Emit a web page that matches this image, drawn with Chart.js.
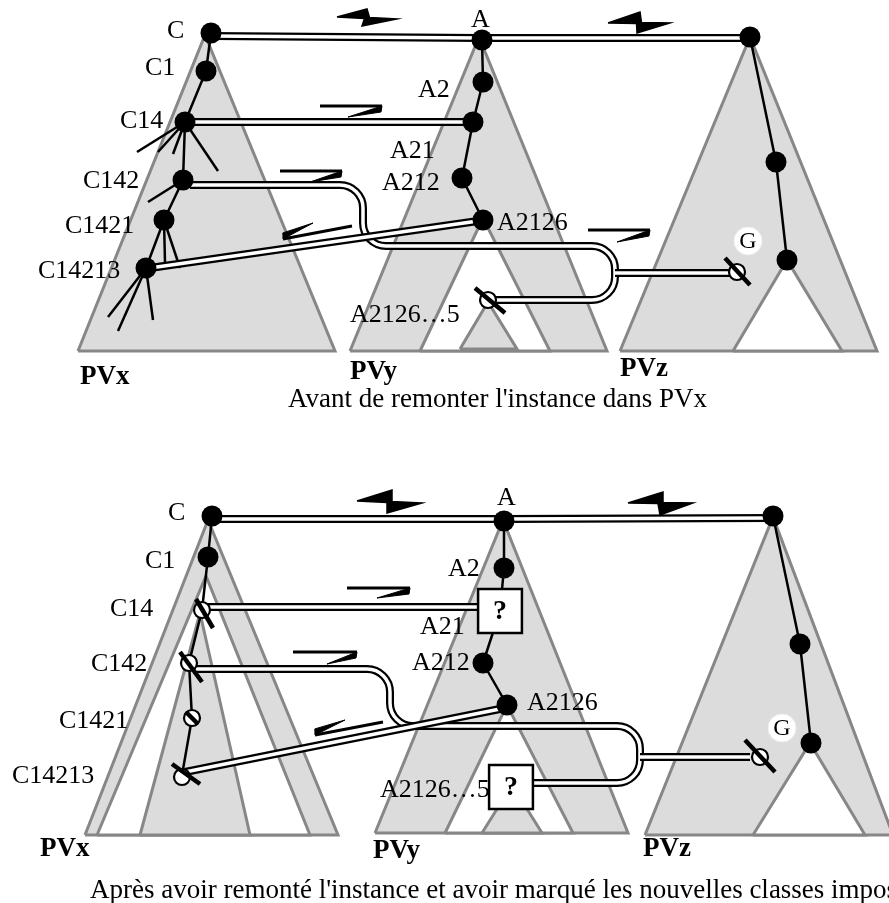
<!DOCTYPE html>
<html><head><meta charset="utf-8">
<script src="https://cdn.jsdelivr.net/npm/chart.js@4.4.1/dist/chart.umd.min.js"></script>
<style>html,body{margin:0;padding:0;background:#fff;overflow:hidden}canvas{display:block}</style>
</head><body>
<canvas id="c" width="889" height="903"></canvas>
<script>
// ===== DATA (diagram coordinates, x right / y down) =====
// hierarchy triangles (PVx, PVy, PVz) : gray outer shapes, white holes, gray sub-trees
const outerTrees = [
  [[78,351],[205,35],[335,351]],
  [[350,351],[479,37],[607,351]],
  [[620,351],[750,37],[877,351]],
  [[85,835],[208,520],[338,835]],
  [[375,833],[503,520],[628,833]],
  [[645,835],[773,517],[893,835]]
];
const holeTrees = [
  [[420,351],[483,218],[550,351]],
  [[733,351],[787,260],[842,351]],
  [[97,835],[206,576],[310,835]],
  [[445,833],[507,705],[573,833]],
  [[753,835],[810,743],[865,835]]
];
const innerTrees = [
  [[460,349],[488,302],[517,349]],
  [[140,835],[200,613],[250,835]],
  [[482,833],[512,785],[542,833]]
];
// class paths inside each hierarchy
const classPaths = [
  [[211,33],[206,71],[185,122],[183,180],[164,220],[146,268]],
  [[482,40],[483,82],[473,122],[462,178],[483,220]],
  [[750,37],[776,162],[787,260]],
  [[212,516],[208,557],[202,610],[189,663],[192,718],[182,775]],
  [[504,521],[504,568],[500,611],[483,663],[507,705]],
  [[773,516],[800,644],[811,743]]
];
const subBranches = [
  [[185,122],[137,152]], [[185,122],[158,152]], [[185,122],[173,154]], [[185,122],[218,171]],
  [[183,180],[148,202]],
  [[164,220],[165,263]], [[164,220],[180,268]],
  [[146,268],[108,317]], [[146,268],[118,331]], [[146,268],[153,320]]
];
// correspondence links (double rails)
const curvedLinks = [
  [[190,185],[363,185],[363,246],[615,246],[615,300],[490,300]],
  [[195,669],[390,669],[390,726],[640,726],[640,783],[533,783]]
];
const straightLinks = [
  [[210,36],[480,38],[750,38]],
  [[190,122],[465,122]],
  [[150,268],[478,221]],
  [[615,273],[737,273]],
  [[212,519],[504,519],[773,518]],
  [[205,607],[478,607]],
  [[185,772],[505,708]],
  [[640,757],[750,757]]
];
// inconsistency flashes: [left end, top tip, bottom tip, right end]
const fullFlashes = [
  [[337,17],[367,9],[362,26],[397,19]],
  [[608,23],[640,12],[637,33],[670,23]],
  [[357,501],[392,490],[387,513],[422,503]],
  [[628,503],[663,492],[660,515],[693,503]]
];
// half flashes: [bar start, bar end, wedge tip]
const halfFlashes = [
  [[320,106],[382,106],[348,117]],
  [[280,171],[342,171],[310,182]],
  [[352,226],[283,239],[313,223]],
  [[588,230],[650,230],[617,242]],
  [[347,588],[410,588],[377,598]],
  [[293,652],[357,652],[327,664]],
  [[383,722],[315,735],[345,720]]
];
// nodes
const solidNodes = [
  [211,33],[206,71],[185,122],[183,180],[164,220],[146,268],
  [482,40],[483,82],[473,122],[462,178],[483,220],
  [750,37],[776,162],[787,260],
  [212,516],[208,557],[504,521],[504,568],[483,663],[507,705],
  [773,516],[800,644],[811,743]
];
const barredNodes = [[488,300],[737,272],[202,610],[189,663],[192,718],[182,777],[760,757]];
const barLines = [
  [[475,288],[505,313]], [[725,258],[750,285]], [[196,599],[213,628]], [[180,652],[202,682]],
  [[186,712],[198,724]], [[172,764],[200,784]], [[745,740],[775,772]]
];
const unknownBoxes = [[500,611],[511,787]];
const gBadges = [[748,241],[782,728]];
// texts
const classNames = ['C','C1','C14','C142','C1421','C14213','A','A2','A21','A212','A2126','A2126\u20265'];
const classPosTop = [[167,38],[145,75],[120,128],[83,188],[65,233],[38,278],[471,27],[418,97],[390,158],[382,190],[497,230],[350,322]];
const classPosBottom = [[168,520],[145,568],[110,616],[91,671],[59,728],[12,783],[497,505],[448,576],[420,634],[412,670],[527,710],[380,797]];
const viewNames = ['PVx','PVy','PVz'];
const viewPosTop = [[80,384],[350,379],[620,376]];
const viewPosBottom = [[40,856],[373,858],[643,856]];
const captions = ["Avant de remonter l'instance dans PVx",
  "Apr\u00e8s avoir remont\u00e9 l'instance et avoir marqu\u00e9 les nouvelles classes impossibles"];
const captionPos = [[288,407],[90,898]];

// ===== DATASETS =====
const datasets = [];
let k = 0;
const P = a => a.map(p => ({x:p[0], y:p[1]}));
function add(o){ o.order = -(k++); datasets.push(Object.assign({pointRadius:0, fill:false, tension:0, borderCapStyle:'butt', clip:false}, o)); return datasets.length-1; }
const GRAY_FILL = '#dcdcdc', GRAY_LINE = '#878787';

outerTrees.forEach(t => add({data:P([...t, t[0]]), fill:'shape', backgroundColor:GRAY_FILL, borderColor:GRAY_LINE, borderWidth:3, borderJoinStyle:'miter'}));
holeTrees.forEach(t => add({data:P([...t, t[0]]), fill:'shape', backgroundColor:'#ffffff', borderColor:GRAY_LINE, borderWidth:3, borderJoinStyle:'miter'}));
innerTrees.forEach(t => add({data:P([...t, t[0]]), fill:'shape', backgroundColor:GRAY_FILL, borderColor:GRAY_LINE, borderWidth:3, borderJoinStyle:'miter'}));
subBranches.forEach(s => add({data:P(s), borderColor:'#000', borderWidth:2.5}));
classPaths.forEach(s => add({data:P(s), borderColor:'#000', borderWidth:2.5, borderJoinStyle:'round'}));
let firstStraight = -1;
straightLinks.forEach(s => {
  const i = add({data:P(s), borderColor:'#000', borderWidth:8});
  if (firstStraight < 0) firstStraight = i;
  add({data:P(s), borderColor:'#fff', borderWidth:3.5});
});
fullFlashes.forEach(f => {
  const [L,T,B,R] = f;
  const M = [(L[0]+R[0])/2, (L[1]+R[1])/2];
  const A = [M[0]+2.5, M[1]-0.5], Bq = [M[0]-2.5, M[1]+0.5];
  add({data:P([L,T,A,R,B,Bq,L]), fill:'shape', backgroundColor:'#000', borderColor:'#000', borderWidth:1.5, borderJoinStyle:'miter'});
});
halfFlashes.forEach(h => {
  const [S,E,T] = h;
  const len = Math.hypot(E[0]-S[0], E[1]-S[1]);
  const d = [(E[0]-S[0])/len, (E[1]-S[1])/len];
  const n = [-d[1], d[0]];
  const W = [E[0]-1*d[0]+6*n[0], E[1]-1*d[1]+6*n[1]];
  add({data:P([S,E]), borderColor:'#000', borderWidth:3});
  add({data:P([E,T,W,E]), fill:'shape', backgroundColor:'#000', borderColor:'#000', borderWidth:1});
});
add({data:P(gBadges), showLine:false, pointRadius:14, pointBackgroundColor:'#fff', pointBorderColor:'#eeeeee', pointBorderWidth:1});
add({data:P(barredNodes), showLine:false, pointRadius:8, pointBackgroundColor:'#fff', pointBorderColor:'#000', pointBorderWidth:2.2});
barLines.forEach(s => add({data:P(s), borderColor:'#000', borderWidth:4.5}));
add({data:P(unknownBoxes), showLine:false, pointStyle:'rect', pointRadius:31, pointBackgroundColor:'#fff', pointBorderColor:'#000', pointBorderWidth:2.5});
add({data:P(solidNodes), showLine:false, pointRadius:10.5, pointBackgroundColor:'#000', pointBorderColor:'#000', pointBorderWidth:0});

// ===== PLUGIN: curved rails + texts =====
const SERIF = "'Liberation Serif','Times New Roman',Times,serif";
const diagram = {
  id:'diagram',
  beforeDatasetDraw(chart, args){
    if (args.index !== firstStraight) return;
    const ctx = chart.ctx, xs = chart.scales.x, ys = chart.scales.y;
    curvedLinks.forEach(pts => {
      const q = pts.map(p => [xs.getPixelForValue(p[0]), ys.getPixelForValue(p[1])]);
      [['#000',8],['#fff',3.5]].forEach(([c,w]) => {
        ctx.save();
        ctx.beginPath();
        ctx.moveTo(q[0][0], q[0][1]);
        for (let i = 1; i < q.length-1; i++) ctx.arcTo(q[i][0], q[i][1], q[i+1][0], q[i+1][1], 23);
        ctx.lineTo(q[q.length-1][0], q[q.length-1][1]);
        ctx.strokeStyle = c; ctx.lineWidth = w; ctx.lineCap = 'butt';
        ctx.stroke();
        ctx.restore();
      });
    });
  },
  afterDatasetsDraw(chart){
    const ctx = chart.ctx, xs = chart.scales.x, ys = chart.scales.y;
    const X = v => xs.getPixelForValue(v), Y = v => ys.getPixelForValue(v);
    ctx.save();
    ctx.fillStyle = '#000';
    ctx.textBaseline = 'alphabetic';
    ctx.textAlign = 'left';
    ctx.font = '26px ' + SERIF;
    classNames.forEach((t,i) => {
      ctx.fillText(t, X(classPosTop[i][0]), Y(classPosTop[i][1]));
      ctx.fillText(t, X(classPosBottom[i][0]), Y(classPosBottom[i][1]));
    });
    ctx.font = '27px ' + SERIF;
    captions.forEach((t,i) => ctx.fillText(t, X(captionPos[i][0]), Y(captionPos[i][1])));
    ctx.font = 'bold 27px ' + SERIF;
    viewNames.forEach((t,i) => {
      ctx.fillText(t, X(viewPosTop[i][0]), Y(viewPosTop[i][1]));
      ctx.fillText(t, X(viewPosBottom[i][0]), Y(viewPosBottom[i][1]));
    });
    ctx.textAlign = 'center';
    ctx.textBaseline = 'middle';
    ctx.font = '24px ' + SERIF;
    gBadges.forEach(g => ctx.fillText('G', X(g[0]), Y(g[1])+1));
    ctx.font = 'bold 28px ' + SERIF;
    unknownBoxes.forEach(b => ctx.fillText('?', X(b[0]), Y(b[1])+1));
    ctx.restore();
  }
};

new Chart(document.getElementById('c'), {
  type:'line',
  data:{datasets},
  options:{
    responsive:false, animation:false, events:[], devicePixelRatio:1,
    layout:{padding:0, autoPadding:false},
    plugins:{legend:{display:false}, tooltip:{enabled:false}},
    scales:{
      x:{type:'linear', min:0, max:889, display:false},
      y:{type:'linear', min:0, max:903, reverse:true, display:false}
    }
  },
  plugins:[diagram]
});
</script>
</body></html>
